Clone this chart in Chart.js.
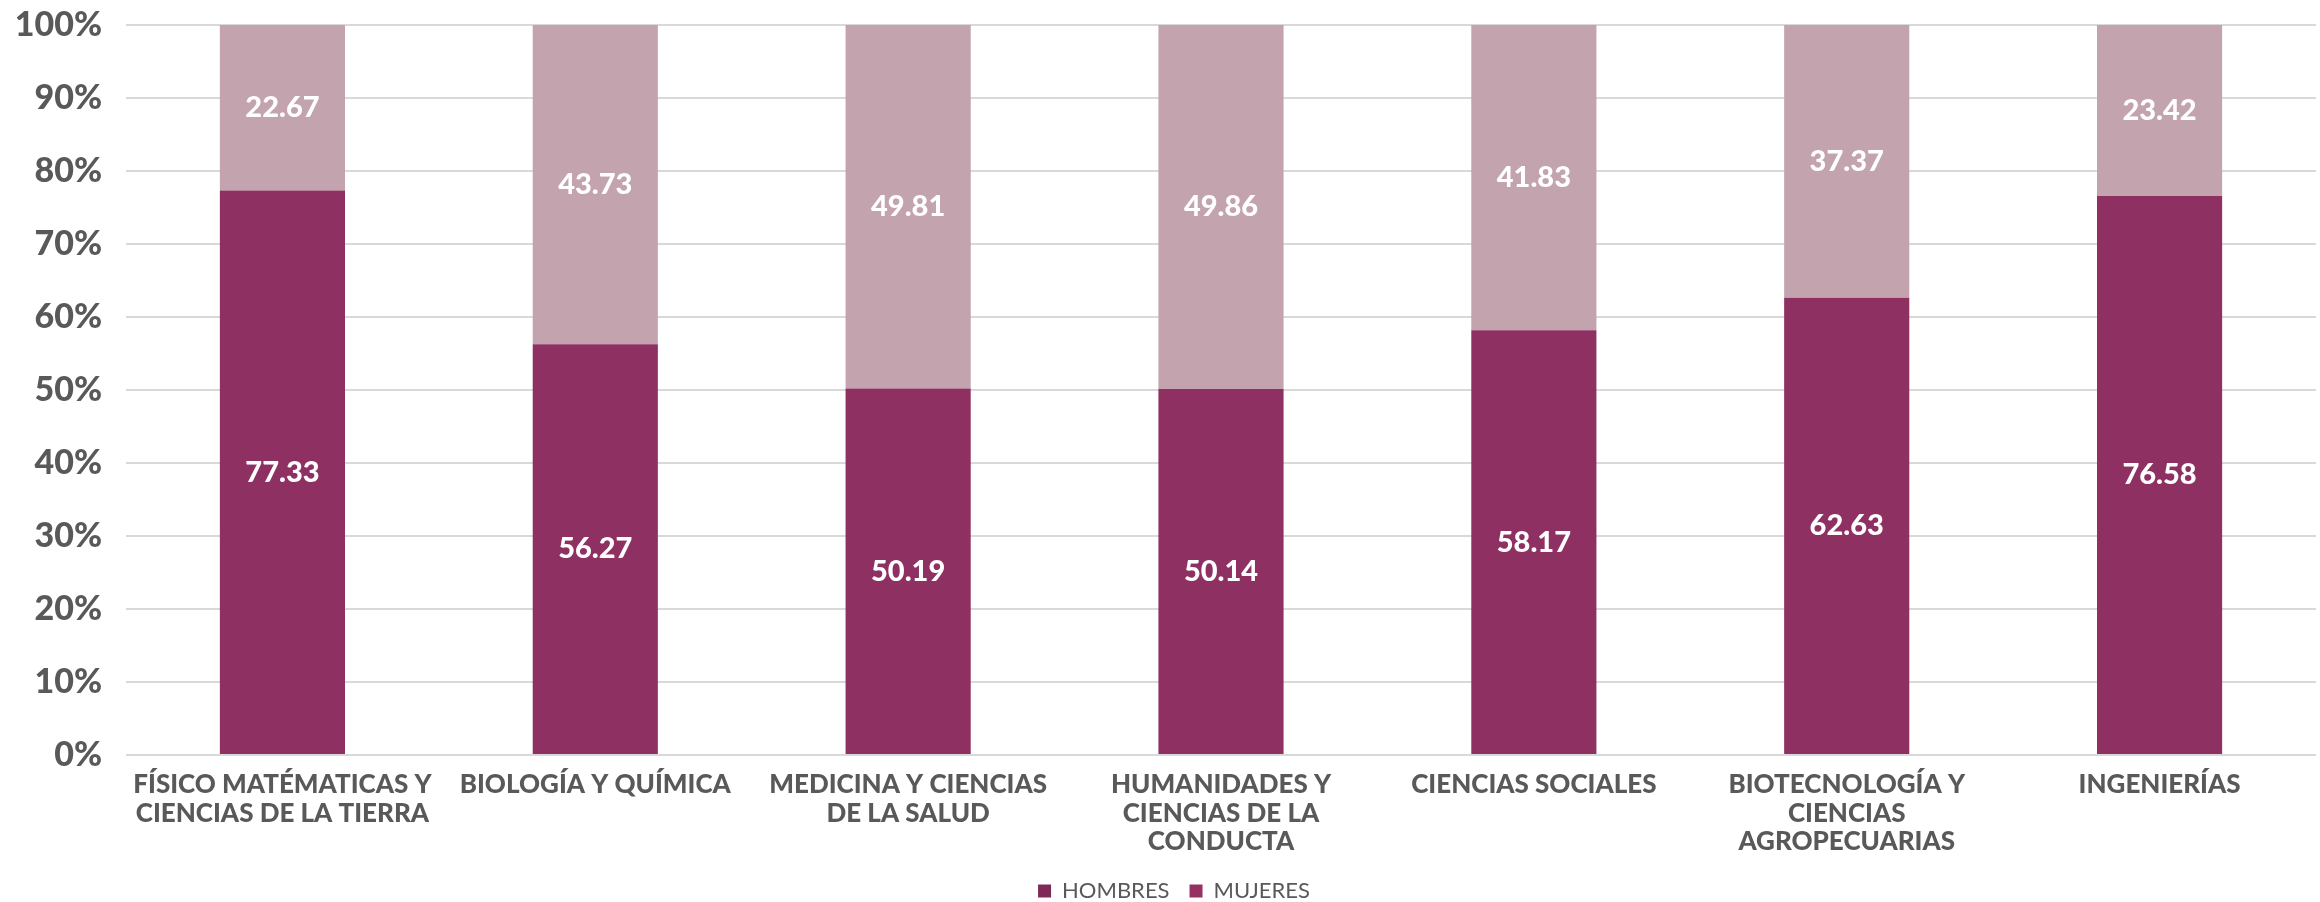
<!DOCTYPE html>
<html lang="es">
<head>
    <meta charset="UTF-8">
    <title>Hombres y mujeres por área del conocimiento</title>
    <script src="https://cdn.jsdelivr.net/npm/chart.js"></script>
    <style>
        html, body { margin: 0; padding: 0; background: #fff; }
        #wrap { width: 2320px; height: 902px; }
    </style>
</head>
<body>
    <div id="wrap"><canvas id="areaChart"></canvas></div>

    <script>
        // --- datos ---
        const areas = [
            ['FÍSICO MATÉMATICAS Y', 'CIENCIAS DE LA TIERRA'],
            'BIOLOGÍA Y QUÍMICA',
            ['MEDICINA Y CIENCIAS', 'DE LA SALUD'],
            ['HUMANIDADES Y', 'CIENCIAS DE LA', 'CONDUCTA'],
            'CIENCIAS SOCIALES',
            ['BIOTECNOLOGÍA Y', 'CIENCIAS', 'AGROPECUARIAS'],
            'INGENIERÍAS'
        ];
        const hombres = [77.33, 56.27, 50.19, 50.14, 58.17, 62.63, 76.58];
        const mujeres = [22.67, 43.73, 49.81, 49.86, 41.83, 37.37, 23.42];

        const FONT = "Lato, 'Open Sans', sans-serif";
        const GRIS = '#595959';

        // etiquetas blancas dentro de cada barra
        const barLabels = {
            id: 'barLabels',
            afterDatasetsDraw(chart) {
                const { ctx } = chart;
                ctx.save();
                ctx.fillStyle = '#ffffff';
                ctx.font = '900 29px ' + FONT;
                ctx.textAlign = 'center';
                ctx.textBaseline = 'middle';
                chart.data.datasets.forEach((ds, di) => {
                    chart.getDatasetMeta(di).data.forEach((bar, i) => {
                        const p = bar.getCenterPoint();
                        ctx.fillText(ds.data[i].toFixed(2), p.x, p.y);
                    });
                });
                ctx.restore();
            }
        };

        // la leyenda del original queda un poco a la derecha del centro
        const legendShift = {
            id: 'legendShift',
            afterLayout(chart) {
                if (chart.legend) {
                    chart.legend.left += 16;
                    chart.legend.right += 16;
                }
            }
        };

        const legendColors = ['#7e2a55', '#963163'];

        new Chart(document.getElementById('areaChart'), {
            type: 'bar',
            data: {
                labels: areas,
                datasets: [
                    { label: 'HOMBRES', data: hombres, backgroundColor: '#8e3062' },
                    { label: 'MUJERES', data: mujeres, backgroundColor: '#c2a3ae' }
                ]
            },
            options: {
                responsive: true,
                maintainAspectRatio: false,
                animation: false,
                layout: { padding: { top: 25, right: 4, left: 0, bottom: -10 } },
                datasets: { bar: { categoryPercentage: 1, barPercentage: 0.4 } },
                scales: {
                    x: {
                        stacked: true,
                        grid: { display: false },
                        border: { display: false },
                        ticks: {
                            color: GRIS,
                            font: { family: FONT, size: 26, weight: '900', lineHeight: 1.08 },
                            padding: 8,
                            maxRotation: 0,
                            autoSkip: false
                        },
                        afterFit: (scale) => { scale.height = 105; }
                    },
                    y: {
                        stacked: true,
                        min: 0,
                        max: 100,
                        grid: { color: '#d9d9d9', lineWidth: 2, drawTicks: false },
                        border: { display: false },
                        ticks: {
                            stepSize: 10,
                            color: GRIS,
                            font: { family: FONT, size: 34, weight: '900' },
                            padding: 24,
                            callback: (v) => v + '%'
                        },
                        afterFit: (scale) => {
                            scale.width = 126;
                            scale.paddingTop = 0;
                            scale.paddingBottom = 0;
                        }
                    }
                },
                plugins: {
                    tooltip: { enabled: false },
                    legend: {
                        position: 'bottom',
                        labels: {
                            color: GRIS,
                            font: { family: FONT, size: 22 },
                            boxWidth: 13,
                            boxHeight: 13,
                            padding: 20,
                            generateLabels: (chart) => chart.data.datasets.map((ds, i) => ({
                                text: ds.label,
                                fillStyle: legendColors[i],
                                strokeStyle: legendColors[i],
                                lineWidth: 0,
                                fontColor: GRIS,
                                datasetIndex: i
                            }))
                        }
                    }
                }
            },
            plugins: [barLabels, legendShift]
        });
    </script>
</body>
</html>
